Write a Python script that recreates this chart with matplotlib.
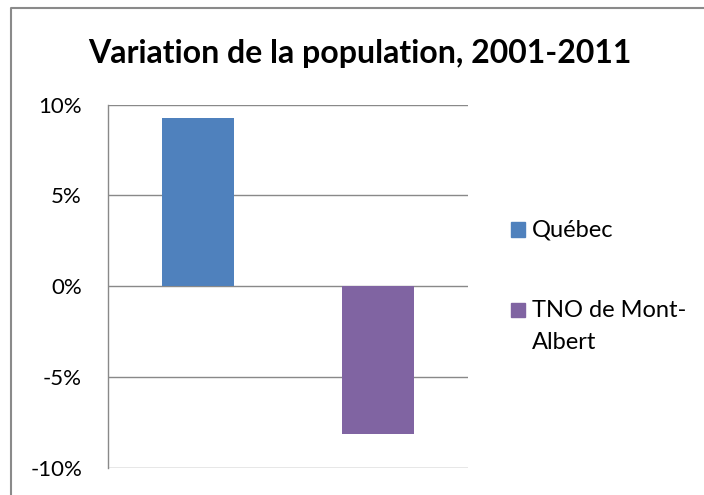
#!/usr/bin/env python3
import matplotlib
matplotlib.use("Agg")
import matplotlib.pyplot as plt
from matplotlib.lines import Line2D
from matplotlib.patches import Rectangle

TITLE = "Variation de la population, 2001-2011"
CATEGORIES = ["Québec", "TNO de Mont-\nAlbert"]
VALUES = [9.25, -8.13]  # percent
COLORS = ["#4F81BD", "#8064A2"]
YTICKS = [-10, -5, 0, 5, 10]

W, H = 704, 495
GRID = "#898989"
plt.rcParams["font.family"] = ["Lato", "DejaVu Sans"]


def fx(px):
    return px / W


def fy(py):
    return 1 - py / H


fig = plt.figure(figsize=(W / 100, H / 100), dpi=100)
ax = fig.add_axes([fx(107.7), fy(467.7), fx(360), (467.7 - 104.7) / H])

x = list(range(len(CATEGORIES)))
ax.bar(x, VALUES, width=0.4, color=COLORS, zorder=3)

ax.set_xlim(-0.5, len(CATEGORIES) - 0.5)
ax.set_ylim(-10, 10)
ax.set_yticks(YTICKS)
ax.set_yticklabels([f"{t}%" for t in YTICKS])
ax.set_xticks([])
ax.tick_params(axis="y", length=0, pad=18.5, labelsize=16, labelcolor="black")
ax.grid(axis="y", color=GRID, linewidth=1.0, zorder=0)
for side in ["top", "right", "bottom"]:
    ax.spines[side].set_visible(False)
ax.spines["left"].set_color(GRID)
ax.spines["left"].set_linewidth(1.0)

# title
fig.text(fx(360), fy(54), TITLE, ha="center", va="center",
         fontsize=23, fontweight="bold")

# legend, swatches aligned with the first line of each label
legend_baselines = [236.7, 317.3]
line_step = 31.5
for label, color, base in zip(CATEGORIES, COLORS, legend_baselines):
    fig.patches.append(Rectangle((fx(510.7), fy(base)), fx(14.3), 14.3 / H,
                                 transform=fig.transFigure, color=color))
    for i, line in enumerate(label.split("\n")):
        fig.text(fx(531.7), fy(base + i * line_step), line, ha="left",
                 va="baseline", fontsize=17)

# outer chart border (left and top edges are visible)
fig.lines.append(Line2D([fx(10.5), fx(10.5), 1.0], [0.0, fy(7.5), fy(7.5)],
                        transform=fig.transFigure, color="#8a8a8a", linewidth=1.5))

fig.savefig("out.png", dpi=100)
